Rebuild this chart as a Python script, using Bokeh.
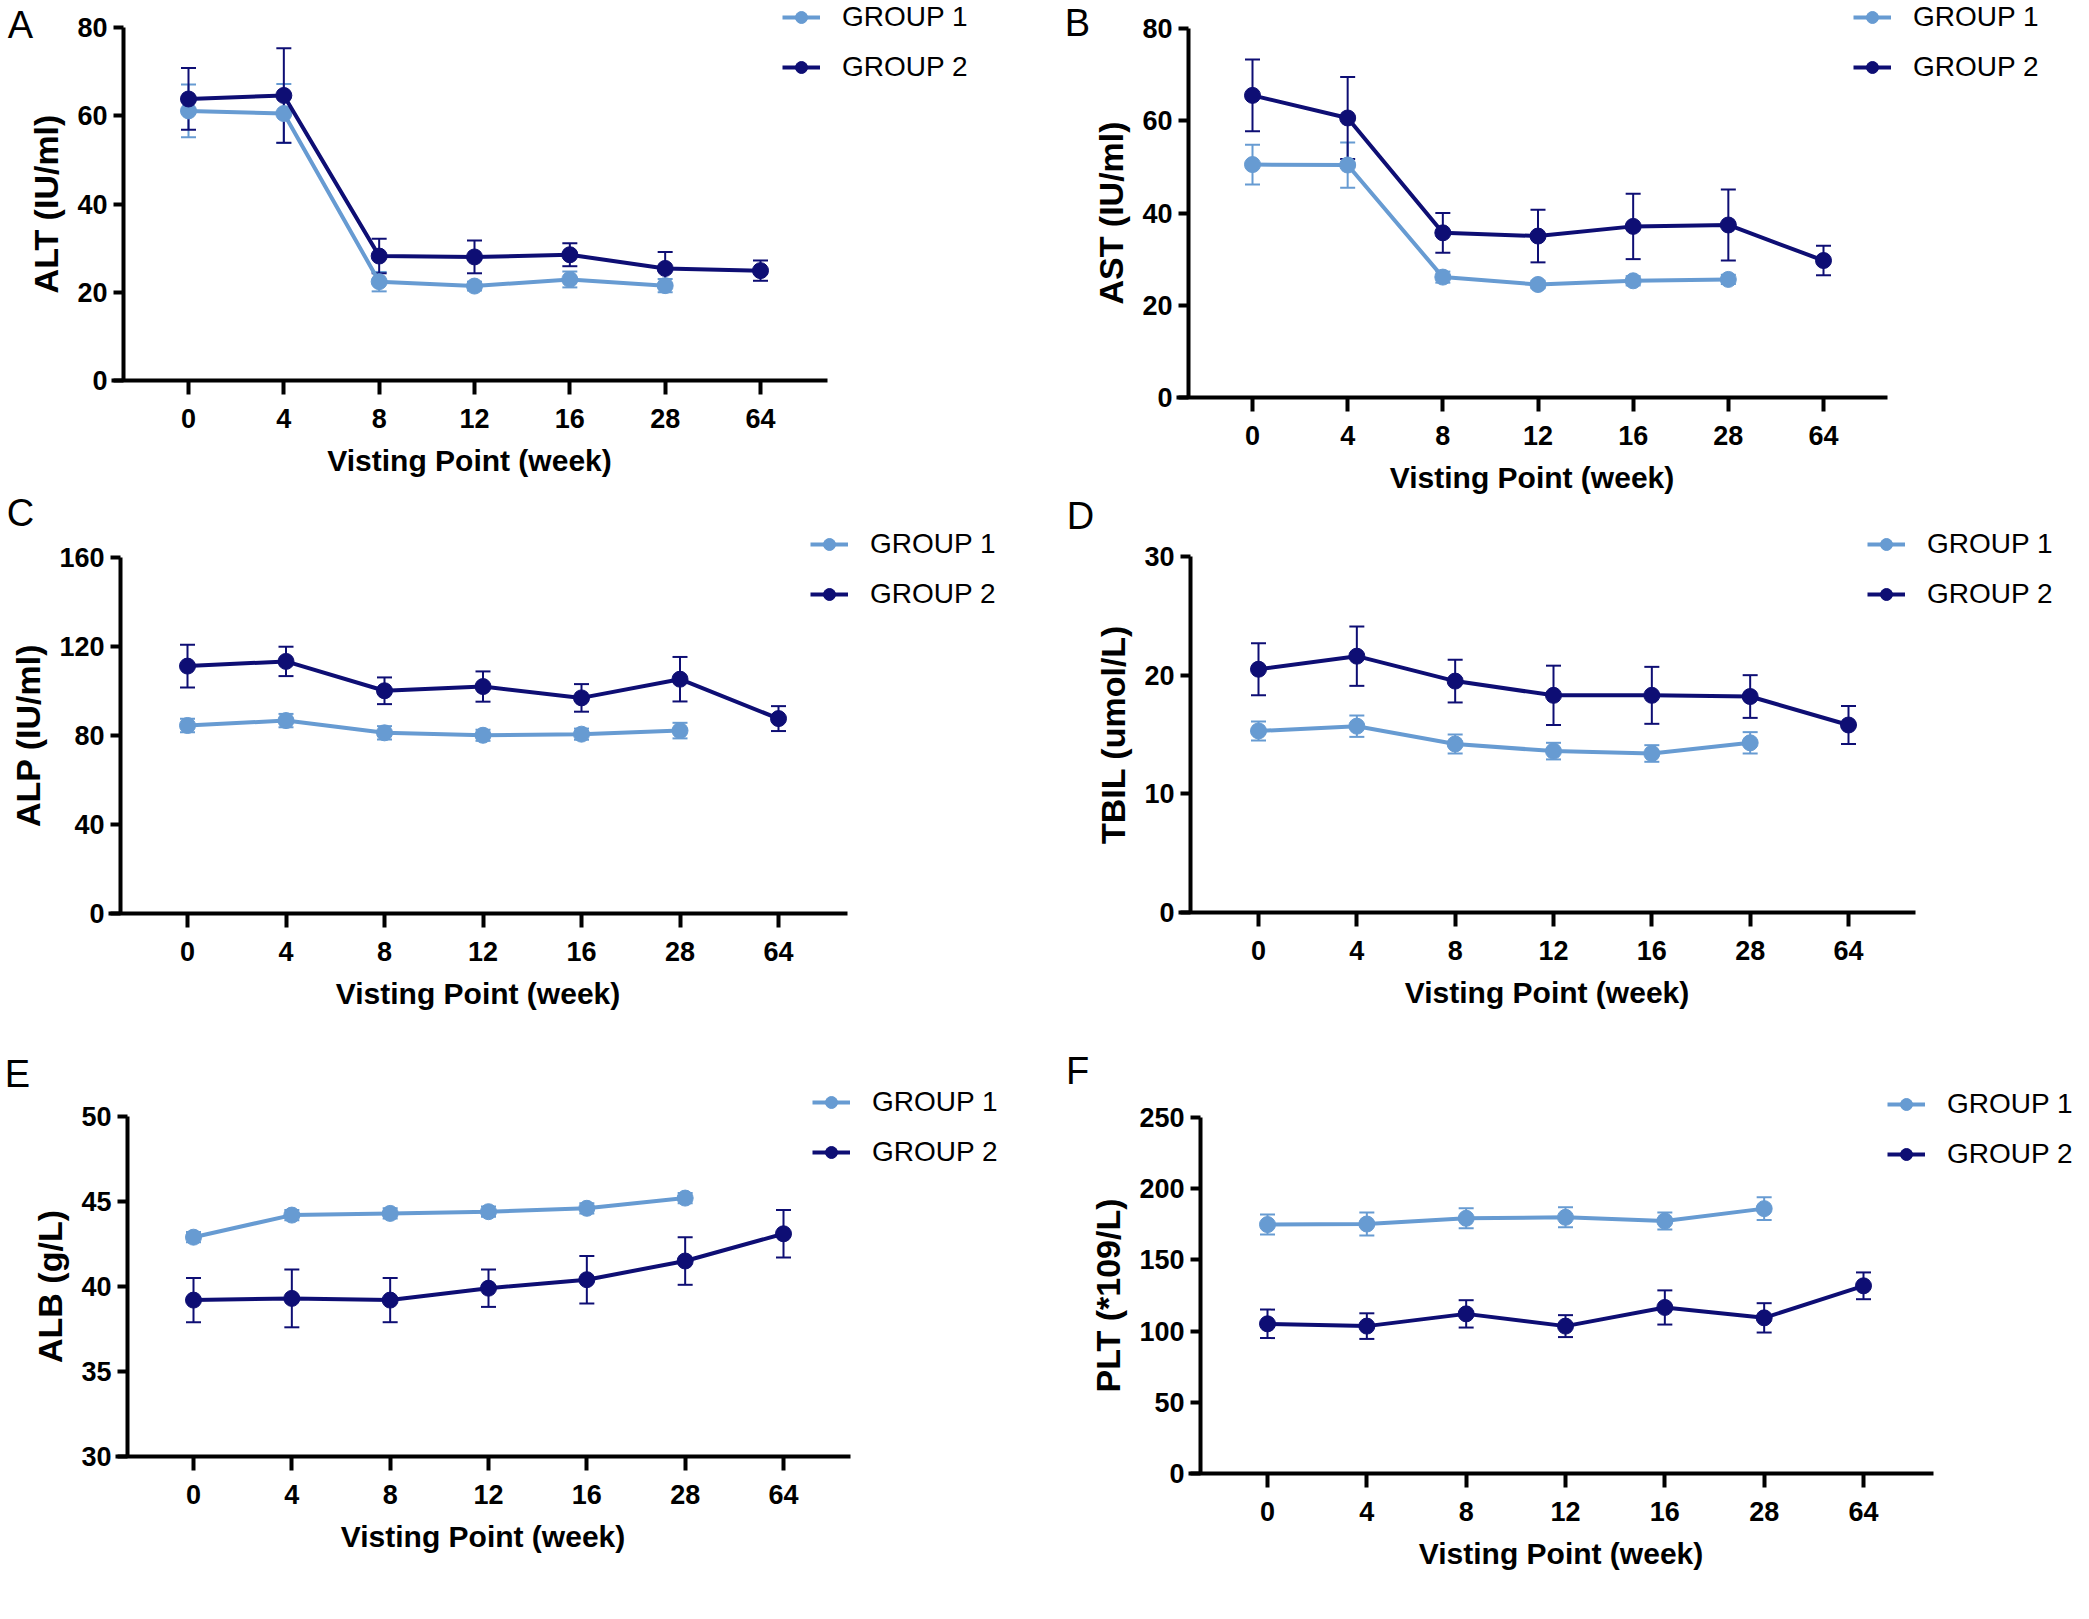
from bokeh.plotting import figure
from bokeh.models import (Range1d, FixedTicker, Whisker, TeeHead, ColumnDataSource,
                          Legend, LegendItem, Label)
from bokeh.layouts import column, row
from bokeh.embed import file_html
from bokeh.resources import INLINE

# ---------------- data ----------------
weeks = ["0", "4", "8", "12", "16", "28", "64"]

alt_g1 = [61.1, 60.5, 22.4, 21.4, 22.9, 21.5]
alt_g1_err = [6.0, 6.7, 2.2, 1.0, 1.8, 1.5]
alt_g2 = [63.8, 64.6, 28.2, 28.0, 28.5, 25.4, 24.9]
alt_g2_err = [7.0, 10.7, 3.9, 3.7, 2.6, 3.7, 2.3]

ast_g1 = [50.5, 50.4, 26.1, 24.5, 25.3, 25.6]
ast_g1_err = [4.3, 4.9, 1.2, 0.8, 1.0, 1.0]
ast_g2 = [65.5, 60.6, 35.7, 35.0, 37.1, 37.4, 29.7]
ast_g2_err = [7.8, 8.9, 4.3, 5.7, 7.1, 7.7, 3.2]

alp_g1 = [84.5, 86.7, 81.2, 80.1, 80.6, 82.2]
alp_g1_err = [3.0, 3.0, 3.0, 2.5, 2.5, 3.5]
alp_g2 = [111.2, 113.3, 100.1, 102.0, 96.9, 105.3, 87.6]
alp_g2_err = [9.6, 6.6, 6.0, 6.8, 6.2, 10.0, 5.6]

tbil_g1 = [15.3, 15.7, 14.2, 13.6, 13.4, 14.3]
tbil_g1_err = [0.8, 0.9, 0.8, 0.7, 0.7, 0.9]
tbil_g2 = [20.5, 21.6, 19.5, 18.3, 18.3, 18.2, 15.8]
tbil_g2_err = [2.2, 2.5, 1.8, 2.5, 2.4, 1.8, 1.6]

alb_g1 = [42.9, 44.2, 44.3, 44.4, 44.6, 45.2]
alb_g1_err = [0.3, 0.3, 0.3, 0.3, 0.3, 0.3]
alb_g2 = [39.2, 39.3, 39.2, 39.9, 40.4, 41.5, 43.1]
alb_g2_err = [1.3, 1.7, 1.3, 1.1, 1.4, 1.4, 1.4]

plt_g1 = [174.8, 175.2, 179.2, 179.9, 177.3, 186.0]
plt_g1_err = [7.0, 8.0, 7.0, 7.0, 6.0, 8.0]
plt_g2 = [105.1, 103.5, 112.1, 103.5, 116.6, 109.3, 131.8]
plt_g2_err = [10.0, 9.0, 9.6, 7.7, 12.0, 10.3, 9.4]

group_labels = ["GROUP 1", "GROUP 2"]

C1 = "#679bd2"
C2 = "#0e0e74"
FONT = "Liberation Sans"

# ------------- layout (pixel geometry of each panel, canvas coords) -------------
# axes: (y-axis column, row of lowest y tick, row of highest y tick,
#        column of first x tick, column of last x tick, right end of x-axis line)
# leg: (legend glyph left, first legend row centre); let: panel letter centre
LW, RW = 1050, 1031
HA, HC, HE = 490, 550, 571
HB, HD, HF = 494, 546, 571


def make_panel(letter, ylabel, yticks, g1, g1e, g2, g2e, W, H, geo):
    axis_x, ybot, ytop, t0, t6, xend = geo["axes"]
    sx = (t6 - t0) / 6.0
    sy = (ybot - ytop) / float(yticks[-1] - yticks[0])
    x_lo = -t0 / sx
    x_hi = (W - t0) / sx
    y_lo = yticks[0] - (H - ybot) / sy
    y_hi = yticks[-1] + ytop / sy
    yaxis_at = (axis_x - t0) / sx

    p = figure(width=W, height=H, output_backend="svg",
               toolbar_location=None, tools="",
               x_range=Range1d(x_lo, x_hi), y_range=Range1d(y_lo, y_hi),
               min_border=0, min_border_left=0, min_border_right=0,
               min_border_top=0, min_border_bottom=0)
    p.outline_line_color = None
    p.xgrid.visible = False
    p.ygrid.visible = False
    p.background_fill_color = "white"
    p.border_fill_color = "white"

    xa = p.xaxis[0]
    ya = p.yaxis[0]
    xa.fixed_location = yticks[0]
    ya.fixed_location = yaxis_at
    xa.bounds = ((axis_x - 12 - t0) / sx, (xend - t0) / sx)
    ya.bounds = (yticks[0], yticks[-1])
    xa.ticker = FixedTicker(ticks=list(range(len(weeks))))
    xa.major_label_overrides = {i: w for i, w in enumerate(weeks)}
    ya.ticker = FixedTicker(ticks=yticks)
    for ax in (xa, ya):
        ax.axis_line_width = 4
        ax.axis_line_color = "black"
        ax.major_tick_line_width = 4
        ax.major_tick_line_color = "black"
        ax.major_tick_in = 0
        ax.minor_tick_line_color = None
        ax.major_label_text_font = FONT
        ax.major_label_text_font_style = "bold"
        ax.major_label_text_font_size = "27px"
        ax.major_label_text_color = "black"
        ax.axis_label_text_font = FONT
        ax.axis_label_text_font_style = "bold"
        ax.axis_label_text_color = "black"
    xa.major_tick_out = 14
    xa.major_label_standoff = 14
    xa.axis_label = "Visting Point (week)"
    xa.axis_label_text_font_size = "30px"
    xa.axis_label_standoff = 13
    ya.major_tick_out = 10
    ya.major_label_standoff = 6
    ya.axis_label = ylabel
    ya.axis_label_text_font_size = "34px"
    ya.axis_label_standoff = 9

    items = []
    for vals, errs, col, lab in ((g1, g1e, C1, group_labels[0]),
                                 (g2, g2e, C2, group_labels[1])):
        xs = list(range(len(vals)))
        src = ColumnDataSource(dict(
            x=xs, y=vals,
            upper=[v + e for v, e in zip(vals, errs)],
            lower=[v - e for v, e in zip(vals, errs)]))
        wk = Whisker(base="x", upper="upper", lower="lower", source=src,
                     line_color=col, line_width=2,
                     upper_head=TeeHead(size=15, line_color=col, line_width=2),
                     lower_head=TeeHead(size=15, line_color=col, line_width=2))
        p.add_layout(wk)
        lr = p.line("x", "y", source=src, line_color=col, line_width=4)
        sr = p.scatter("x", "y", source=src, marker="circle", size=16,
                       fill_color=col, line_color=col)
        items.append(LegendItem(label=lab, renderers=[lr, sr]))

    gl, r1 = geo["leg"]
    leg_h = 30 + 18 + 30
    leg = Legend(items=items, location=(gl, H - (r1 - 15 + leg_h)))
    leg.padding = 0
    leg.margin = 0
    leg.border_line_color = None
    leg.background_fill_alpha = 0
    leg.glyph_width = 38
    leg.glyph_height = 30
    leg.label_height = 30
    leg.spacing = 18
    leg.label_standoff = 22
    leg.label_text_font = FONT
    leg.label_text_font_size = "28px"
    leg.label_text_color = "black"
    p.add_layout(leg)

    lx, ly = geo["let"]
    p.add_layout(Label(x=lx, y=ly, x_units="canvas", y_units="canvas",
                       text=letter, text_font=FONT, text_font_size="38px",
                       text_align="center", text_baseline="middle",
                       text_color="black"))
    return p


geoA = dict(axes=(123, 380, 27, 188, 760, 827), leg=(782, 20), let=(20, 24))
geoC = dict(axes=(120, 423, 67, 187, 778, 847), leg=(810, 57), let=(20, 22))
geoE = dict(axes=(127, 416, 76, 193, 783, 850), leg=(812, 65), let=(17, 33))
geoB = dict(axes=(138, 397, 28, 202, 773, 837), leg=(803, 20), let=(27, 22))
geoD = dict(axes=(140, 418, 62, 208, 798, 865), leg=(817, 53), let=(30, 21))
geoF = dict(axes=(150, 433, 77, 217, 813, 883), leg=(837, 67), let=(27, 30))

pA = make_panel("A", "ALT (IU/ml)", [0, 20, 40, 60, 80], alt_g1, alt_g1_err,
                alt_g2, alt_g2_err, LW, HA, geoA)
pB = make_panel("B", "AST (IU/ml)", [0, 20, 40, 60, 80], ast_g1, ast_g1_err,
                ast_g2, ast_g2_err, RW, HB, geoB)
pC = make_panel("C", "ALP (IU/ml)", [0, 40, 80, 120, 160], alp_g1, alp_g1_err,
                alp_g2, alp_g2_err, LW, HC, geoC)
pD = make_panel("D", "TBIL (umol/L)", [0, 10, 20, 30], tbil_g1, tbil_g1_err,
                tbil_g2, tbil_g2_err, RW, HD, geoD)
pE = make_panel("E", "ALB (g/L)", [30, 35, 40, 45, 50], alb_g1, alb_g1_err,
                alb_g2, alb_g2_err, LW, HE, geoE)
pF = make_panel("F", "PLT (*109/L)", [0, 50, 100, 150, 200, 250], plt_g1, plt_g1_err,
                plt_g2, plt_g2_err, RW, HF, geoF)

layout = row(column(pA, pC, pE), column(pB, pD, pF))

open("out.html", "w").write(file_html(layout, INLINE))
